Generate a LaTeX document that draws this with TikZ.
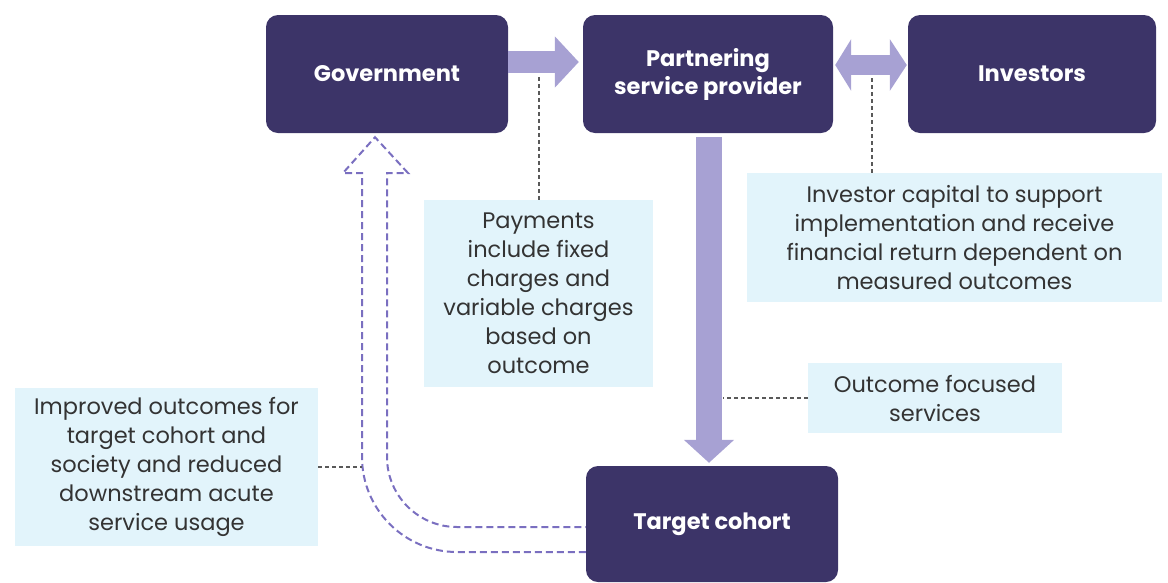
\documentclass[tikz,border=0pt]{standalone}
\usepackage{fontspec}
\setmainfont{Poppins}
\usetikzlibrary{arrows.meta}
\definecolor{navy}{HTML}{3C3468}
\definecolor{lilac}{HTML}{A7A1D3}
\definecolor{paleblue}{HTML}{E2F4FB}
\definecolor{dashlilac}{HTML}{7A6FC0}
\definecolor{notegrey}{HTML}{333333}
\tikzset{
  darkbox/.style={fill=navy, rounded corners=12pt, text=white, inner sep=0pt,
    font=\bfseries\fontsize{22.5}{28}\selectfont, align=center},
  notebox/.style={fill=paleblue, text=notegrey, inner sep=0pt,
    font=\fontsize{22.5}{29}\selectfont, align=center},
  fatarrow/.style={draw=lilac},
  leader/.style={draw=black!65, line width=1.2pt, dash pattern=on 4pt off 3pt},
  hollowarrow/.style={draw=dashlilac, line width=2pt, dash pattern=on 7pt off 4pt}
}

\begin{document}
\begin{tikzpicture}[x=1pt,y=-1pt]
\useasboundingbox (0,0) rectangle (1168,582);
% the three boxes on top
\node[darkbox, minimum width=242pt, minimum height=118pt] (gov) at (387,74) {Government};
\node[darkbox, minimum width=250pt, minimum height=118pt] (psp) at (708,74) {Partnering\\service provider};
\node[darkbox, minimum width=248pt, minimum height=118pt] (inv) at (1032,74) {Investors};
% the box below
\node[darkbox, minimum width=252pt, minimum height=116pt] (tc) at (712,524) {Target cohort};
% the notes
\node[notebox, minimum width=229pt, minimum height=187pt] (pay) at (538.5,293.5)
  {Payments\\include fixed\\charges and\\variable charges\\based on\\outcome};
\node[notebox, minimum width=415pt, minimum height=129pt] (invnote) at (954.5,237.5)
  {Investor capital to support\\implementation and receive\\financial return dependent on\\measured outcomes};
\node[notebox, minimum width=254pt, minimum height=70pt] (ofs) at (935,398)
  {Outcome focused\\services};
\node[notebox, minimum width=303pt, minimum height=158pt] (imp) at (166.5,467)
  {Improved outcomes for\\target cohort and\\society and reduced\\downstream acute\\service usage};
% fat arrows
\draw[fatarrow, line width=22pt, -{Triangle[length=24pt,width=50pt]}]
  ([yshift=12pt]gov.east) -- ([yshift=12pt,xshift=-4pt]psp.west);
\draw[fatarrow, line width=20pt, {Triangle[length=16pt,width=51pt]}-{Triangle[length=17pt,width=51pt]}]
  ([yshift=9pt,xshift=2pt]psp.east) -- ([yshift=9pt,xshift=-1pt]inv.west);
\draw[fatarrow, line width=26pt, -{Triangle[length=23pt,width=49pt]}]
  ([xshift=1pt,yshift=-4pt]psp.south) -- ([xshift=1pt,yshift=3pt]psp.south |- tc.north);
% the hollow dashed arrow back up
\coordinate (tip) at ([xshift=-12pt,yshift=-4pt]gov.south);
\draw[hollowarrow] ([yshift=-28pt]tc.west) -- (457,552) arc[start angle=90, end angle=180, radius=95]
  -- (362,173) -- (343,173) -- (tip) -- (408,173) -- (387,173) -- (387,457)
  arc[start angle=180, end angle=90, radius=70] -- ([yshift=-3pt]tc.west);
% leaders
\coordinate (payend) at (539,74);
\coordinate (invend) at (872,77);
\coordinate (ofsend) at (723,398);
\coordinate (impend) at (362,467);
\draw[leader] (pay.north -| payend) -- (payend);
\draw[leader] (invnote.north -| invend) -- (invend);
\draw[leader] (ofs.west) -- (ofsend);
\draw[leader] (imp.east) -- (impend);
\end{tikzpicture}
\end{document}
